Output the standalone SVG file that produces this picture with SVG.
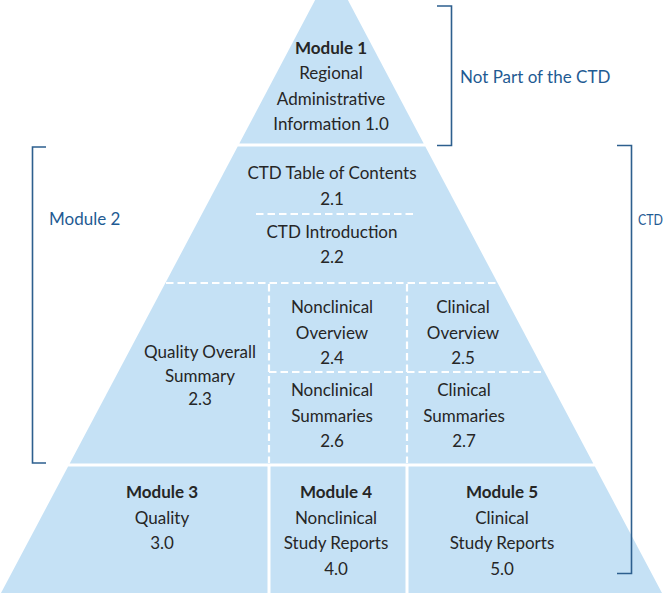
<svg xmlns="http://www.w3.org/2000/svg" width="668" height="596" viewBox="0 0 668 596">
<style>
.band{fill:#c5e1f5}
.t{font-family:Lato,"Liberation Sans",sans-serif;font-size:17px;fill:#262626;text-anchor:middle}
.b{font-weight:bold}
.lbl{font-family:Lato,"Liberation Sans",sans-serif;font-size:17px;fill:#1f5b93}
.dash{stroke:#ffffff;stroke-width:2.2;stroke-dasharray:7.5 4;fill:none}
.br{stroke:#2d5f8e;stroke-width:1.6;fill:none}
</style>
<rect width="668" height="596" fill="#ffffff"/>
<g id="module1">
<polygon class="band" points="331.5,-31 423.7,143.5 239.3,143.5"/>
<text class="t b" x="331" y="54">Module 1</text>
<text class="t" x="331" y="79">Regional</text>
<text class="t" x="331" y="105">Administrative</text>
<text class="t" x="331" y="130">Information 1.0</text>
</g>
<g id="module2">
<polygon class="band" points="237.7,146.5 425.3,146.5 593.3,463.5 69.7,463.5"/>
</g>
<g id="m2-1">
<text class="t" x="332" y="179">CTD Table of Contents</text>
<text class="t" x="332" y="205">2.1</text>
</g>
<g id="m2-2">
<text class="t" x="332" y="238">CTD Introduction</text>
<text class="t" x="332" y="263">2.2</text>
</g>
<g id="m2-3">
<text class="t" x="200" y="358">Quality Overall</text>
<text class="t" x="200" y="382">Summary</text>
<text class="t" x="200" y="405">2.3</text>
</g>
<g id="m2-4">
<text class="t" x="332" y="313">Nonclinical</text>
<text class="t" x="332" y="339">Overview</text>
<text class="t" x="332" y="364">2.4</text>
</g>
<g id="m2-5">
<text class="t" x="463" y="313">Clinical</text>
<text class="t" x="463" y="339">Overview</text>
<text class="t" x="463" y="364">2.5</text>
</g>
<g id="m2-6">
<text class="t" x="332" y="396">Nonclinical</text>
<text class="t" x="332" y="422">Summaries</text>
<text class="t" x="332" y="447">2.6</text>
</g>
<g id="m2-7">
<text class="t" x="464" y="396">Clinical</text>
<text class="t" x="464" y="422">Summaries</text>
<text class="t" x="464" y="447">2.7</text>
</g>
<g id="module3">
<polygon class="band" points="68.1,466.5 267.5,466.5 267.5,593 1,593"/>
<text class="t b" x="162" y="498">Module 3</text>
<text class="t" x="162" y="524">Quality</text>
<text class="t" x="162" y="549">3.0</text>
</g>
<g id="module4">
<polygon class="band" points="270.5,466.5 405.5,466.5 405.5,593 270.5,593"/>
<text class="t b" x="336" y="498">Module 4</text>
<text class="t" x="336" y="524">Nonclinical</text>
<text class="t" x="336" y="549">Study Reports</text>
<text class="t" x="336" y="575">4.0</text>
</g>
<g id="module5">
<polygon class="band" points="408.5,466.5 594.9,466.5 662,593 408.5,593"/>
<text class="t b" x="502" y="498">Module 5</text>
<text class="t" x="502" y="524">Clinical</text>
<text class="t" x="502" y="549">Study Reports</text>
<text class="t" x="502" y="575">5.0</text>
</g>
<g id="connectors">
<line class="dash" x1="256" y1="214" x2="413" y2="214"/>
<line class="dash" x1="166" y1="283" x2="497" y2="283"/>
<line class="dash" x1="269" y1="372" x2="544" y2="372"/>
<line class="dash" x1="269" y1="284" x2="269" y2="463"/>
<line class="dash" x1="407" y1="284" x2="407" y2="463"/>
<path class="br" d="M437,6 H451.5 V145.5 H437"/>
<path class="br" d="M46,147 H32.5 V463 H46"/>
<path class="br" d="M617,145.5 H631.5 V573.5 H617"/>
</g>
<g id="labels">
<text class="lbl" x="460" y="83">Not Part of the CTD</text>
<text class="lbl" x="49" y="225">Module 2</text>
<text class="lbl" x="638" y="225" style="font-size:15.5px" textLength="25" lengthAdjust="spacingAndGlyphs">CTD</text>
</g>
</svg>
